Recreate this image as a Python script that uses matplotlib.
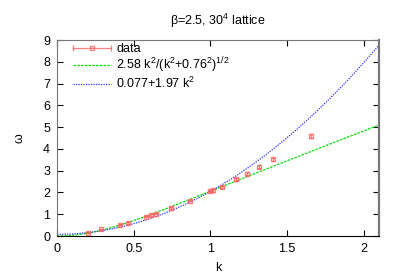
import numpy as np
import matplotlib
matplotlib.use("Agg")
import matplotlib.pyplot as plt
from matplotlib.legend_handler import HandlerBase
from matplotlib.lines import Line2D

plt.rcParams['font.family'] = ['Liberation Sans', 'DejaVu Sans']
plt.rcParams['mathtext.fontset'] = 'custom'
plt.rcParams['mathtext.rm'] = 'Liberation Sans'
plt.rcParams['mathtext.default'] = 'regular'

# data
k_data = [0.205, 0.288, 0.41, 0.46, 0.58, 0.614, 0.646, 0.744, 0.87,
          0.995, 1.02, 1.076, 1.167, 1.24, 1.32, 1.406, 1.656]
w_data = [0.15, 0.31, 0.52, 0.60, 0.89, 0.96, 1.03, 1.28, 1.63,
          2.06, 2.09, 2.26, 2.60, 2.86, 3.18, 3.53, 4.60]
w_err = [0.02, 0.02, 0.03, 0.03, 0.03, 0.03, 0.03, 0.04, 0.04,
         0.05, 0.05, 0.05, 0.06, 0.06, 0.06, 0.07, 0.08]

# fit parameters
a1, m1 = 2.58, 0.76
c2, b2 = 0.077, 1.97

red = '#ff6060'


class GnuplotErrHandler(HandlerBase):
    # legend key like gnuplot: horizontal bar with end caps and a square
    def create_artists(self, legend, orig, xd, yd, w, h, fontsize, trans):
        y = yd + h / 2
        line = Line2D([xd, xd + w], [y, y], color=red, lw=0.9, alpha=0.8)
        caps = Line2D([xd, xd + w], [y, y], ls='none', marker='|', ms=4,
                      mec=red, mew=0.9, alpha=0.8)
        sq = Line2D([xd + w / 2], [y], ls='none', marker='s', ms=3.5, mfc='none',
                    mec=red, mew=1.0, alpha=0.8)
        for a in (line, caps, sq):
            a.set_transform(trans)
        return [line, caps, sq]


fig = plt.figure(figsize=(3.99, 2.79), dpi=100)
ax = fig.add_axes([0.1429, 0.1541, 0.8070, 0.7025])

k = np.linspace(0, 2.1, 300)
eb = ax.errorbar(k_data, w_data, yerr=w_err, fmt='s', color=red, ecolor=red,
                 mfc='none', mec=red, ms=3.5, mew=1.0, elinewidth=0.8, capsize=1.5,
                 alpha=0.8, zorder=3)
l1, = ax.plot(k, a1 * k**2 / np.sqrt(k**2 + m1**2), color='#00dd00', lw=0.9,
              linestyle=(0, (2, 1)))
l2, = ax.plot(k, c2 + b2 * k**2, color='#3030ff', lw=0.9, linestyle=(0, (1, 1)))

ax.set_xlim(0, 2.1)
ax.set_ylim(0, 9)
ax.set_xticks([0, 0.5, 1, 1.5, 2])
ax.set_xticklabels(['0', '0.5', '1', '1.5', '2'])
ax.set_yticks(range(10))
ax.tick_params(direction='in', top=True, right=True, length=4, width=0.8,
               labelsize=9, pad=5)
for s in ['left', 'top', 'right']:
    ax.spines[s].set_color('#777777')
ax.spines['right'].set_linewidth(1.6)
ax.spines['bottom'].set_color('black')

ax.set_title('β=2.5, 30$^4$ lattice', fontsize=9, pad=11)
ax.set_xlabel('k', fontsize=9, labelpad=5)
ax.set_ylabel('ω', fontsize=9, labelpad=13, rotation=90)

ax.legend([eb, l1, l2],
          ['data', '2.58 k$^2$/(k$^2$+0.76$^2$)$^{1/2}$', '0.077+1.97 k$^2$'],
          handler_map={type(eb): GnuplotErrHandler()},
          loc='upper left', fontsize=9, frameon=False, handlelength=3.0,
          handletextpad=0.45, labelspacing=0.05, borderaxespad=0.0,
          bbox_to_anchor=(0.035, 1.01))

fig.savefig('out.png', dpi=100)
